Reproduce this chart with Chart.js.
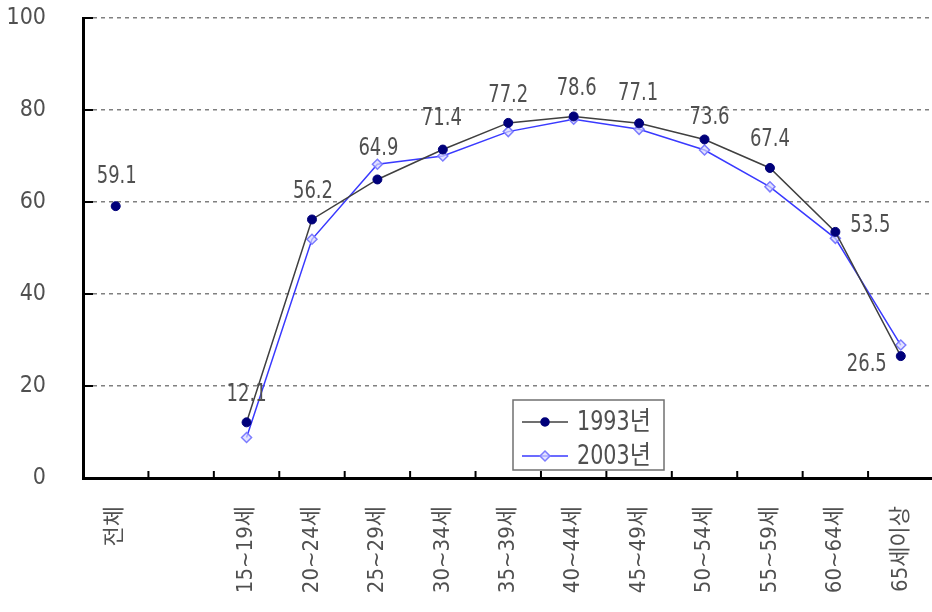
<!DOCTYPE html>
<html>
<head>
<meta charset="utf-8">
<script src="https://cdn.jsdelivr.net/npm/chart.js@4"></script>
<style>
  html, body { margin: 0; padding: 0; background: #fff; overflow: hidden; }
  #wrap { width: 940px; height: 612px; position: relative; }
</style>
</head>
<body>
<div id="wrap"><canvas id="rate-chart"></canvas></div>
<script>
// 연령별 경제활동참가율 (%)
const ageGroups = ["전체", "", "15~19세", "20~24세", "25~29세", "30~34세", "35~39세",
    "40~44세", "45~49세", "50~54세", "55~59세", "60~64세", "65세이상"];
const rate1993 = [59.1, null, 12.1, 56.2, 64.9, 71.4, 77.2, 78.6, 77.1, 73.6, 67.4, 53.5, 26.5];
const rate2003 = [null, null, 8.8, 51.9, 68.2, 70.0, 75.3, 78.0, 75.8, 71.3, 63.3, 52.1, 28.9];
const yTicks = [0, 20, 40, 60, 80, 100];

const textFont = '"DejaVu Sans Condensed", "Noto Sans CJK KR", sans-serif';
const textColor = "#505050";

// label offsets (dx, dy) from each 1993 point
const labelOffsets = [[1, -29], null, [0, -28], [1, -28], [1, -31], [-1, -31], [0, -27], [3, -28],
    [-1, -30], [5, -22], [0, -28], [35, -6], [-34, 9]];

const inwardTicks = {
    id: "inwardTicks",
    afterDraw(chart) {
        const ctx = chart.ctx;
        const x = chart.scales.x, y = chart.scales.y;
        ctx.save();
        ctx.strokeStyle = "#000";
        ctx.lineWidth = 2;
        yTicks.forEach((v) => {
            const py = y.getPixelForValue(v);
            ctx.beginPath();
            ctx.moveTo(x.left, py);
            ctx.lineTo(x.left + 10, py);
            ctx.stroke();
        });
        for (let i = 1; i < ageGroups.length; i++) {
            const px = (x.getPixelForValue(i - 1) + x.getPixelForValue(i)) / 2;
            ctx.beginPath();
            ctx.moveTo(px, y.bottom);
            ctx.lineTo(px, y.bottom - 7);
            ctx.stroke();
        }
        ctx.restore();
    },
};

const valueLabels = {
    id: "valueLabels",
    afterDatasetsDraw(chart) {
        const ctx = chart.ctx;
        const meta = chart.getDatasetMeta(0);
        ctx.save();
        ctx.fillStyle = textColor;
        ctx.font = "20px " + textFont;
        ctx.textAlign = "center";
        ctx.textBaseline = "middle";
        rate1993.forEach((v, i) => {
            if (v === null) return;
            const p = meta.data[i];
            const off = labelOffsets[i];
            ctx.save();
            ctx.translate(p.x + off[0], p.y + off[1]);
            ctx.scale(1, 1.2);
            ctx.fillText(v.toFixed(1), 0, 0);
            ctx.restore();
        });
        ctx.restore();
    },
};

const boxLegend = {
    id: "boxLegend",
    afterDraw(chart) {
        const ctx = chart.ctx;
        const items = [
            { text: "1993년", ds: chart.data.datasets[0] },
            { text: "2003년", ds: chart.data.datasets[1] },
        ];
        ctx.save();
        ctx.fillStyle = "#fff";
        ctx.fillRect(513, 400, 151, 70);
        ctx.strokeStyle = "#707070";
        ctx.lineWidth = 1.5;
        ctx.strokeRect(513, 400, 151, 70);
        items.forEach((it, k) => {
            const ly = 422 + k * 34;
            ctx.strokeStyle = it.ds.borderColor;
            ctx.lineWidth = 1.5;
            ctx.beginPath();
            ctx.moveTo(522, ly);
            ctx.lineTo(568, ly);
            ctx.stroke();
            ctx.fillStyle = it.ds.pointBackgroundColor;
            ctx.strokeStyle = it.ds.pointBorderColor;
            ctx.lineWidth = 1.5;
            ctx.beginPath();
            if (it.ds.pointStyle === "circle") {
                ctx.arc(545, ly, 4, 0, Math.PI * 2);
            } else {
                ctx.moveTo(545, ly - 5);
                ctx.lineTo(550, ly);
                ctx.lineTo(545, ly + 5);
                ctx.lineTo(540, ly);
                ctx.closePath();
            }
            ctx.fill();
            ctx.stroke();
            ctx.fillStyle = textColor;
            ctx.font = "23px " + textFont;
            ctx.textAlign = "left";
            ctx.textBaseline = "middle";
            ctx.save();
            ctx.translate(577, ly + 1);
            ctx.scale(1, 1.15);
            ctx.fillText(it.text, 0, 0);
            ctx.restore();
        });
        ctx.restore();
    },
};

new Chart(document.getElementById("rate-chart"), {
    type: "line",
    data: {
        labels: ageGroups,
        datasets: [
            {
                label: "1993년",
                data: rate1993,
                borderColor: "#404040",
                borderWidth: 1.5,
                pointStyle: "circle",
                pointRadius: 4.5,
                pointBackgroundColor: "#00007a",
                pointBorderColor: "#00007a",
                pointBorderWidth: 1,
                spanGaps: false,
                tension: 0,
            },
            {
                label: "2003년",
                data: rate2003,
                borderColor: "#3a3aff",
                borderWidth: 1.5,
                pointStyle: "rectRot",
                pointRadius: 5,
                pointBackgroundColor: "rgba(215,215,255,0.7)",
                pointBorderColor: "#7c7cff",
                pointBorderWidth: 1.5,
                spanGaps: false,
                tension: 0,
            },
        ],
    },
    options: {
        responsive: true,
        maintainAspectRatio: false,
        animation: false,
        layout: { padding: { top: 18, right: 5, left: 0, bottom: 0 } },
        plugins: {
            legend: { display: false },
            tooltip: { enabled: false },
        },
        scales: {
            x: {
                offset: true,
                grid: { display: false },
                border: { display: true, color: "#000", width: 3 },
                ticks: {
                    autoSkip: false,
                    minRotation: 90,
                    maxRotation: 90,
                    padding: 20,
                    color: textColor,
                    font: { family: textFont, size: 22 },
                },
                afterFit(scale) {
                    scale.height = 134;
                    scale.paddingLeft = 0;
                    scale.paddingRight = 0;
                },
            },
            y: {
                min: 0,
                max: 100,
                ticks: {
                    stepSize: 20,
                    padding: 37,
                    color: textColor,
                    font: { family: textFont, size: 23 },
                },
                grid: {
                    drawTicks: false,
                    color: (c) => (c.tick && c.tick.value === 0 ? "rgba(0,0,0,0)" : "#808080"),
                    lineWidth: 1.5,
                },
                border: { display: true, color: "#000", width: 3, dash: [4, 4] },
                afterFit(scale) {
                    scale.width = 83;
                    scale.paddingTop = 0;
                    scale.paddingBottom = 0;
                },
            },
        },
    },
    plugins: [inwardTicks, valueLabels, boxLegend],
});
</script>
</body>
</html>
